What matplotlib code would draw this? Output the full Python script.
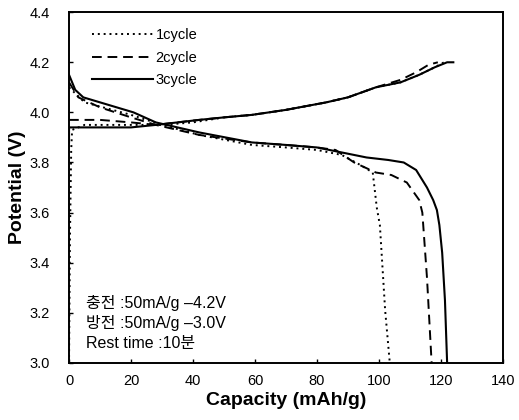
import matplotlib
matplotlib.use("Agg")
import matplotlib.pyplot as plt

plt.rcParams['font.family'] = ['Liberation Sans', 'Noto Sans CJK KR', 'DejaVu Sans']

# cycle 1 (dotted)
c1_chg_cap = [0, 0.3, 0.7, 1, 5, 20, 30, 40, 50, 59, 70, 83, 90, 99, 107, 113, 118, 121]
c1_chg_v = [3.0, 3.5, 3.85, 3.93, 3.95, 3.95, 3.95, 3.96, 3.98, 3.99, 4.01, 4.04, 4.06, 4.10, 4.12, 4.15, 4.18, 4.20]
c1_dis_cap = [0, 5, 20, 30, 42, 59, 70, 80, 88, 94, 98, 99.3, 100.3, 102, 103.5]
c1_dis_v = [4.10, 4.04, 3.99, 3.95, 3.91, 3.87, 3.86, 3.85, 3.83, 3.79, 3.76, 3.62, 3.55, 3.21, 3.0]

# cycle 2 (dashed)
c2_chg_cap = [0, 3, 10, 20, 28, 35, 42, 50, 59, 70, 83, 90, 99, 107, 112, 116, 119]
c2_chg_v = [3.97, 3.97, 3.97, 3.96, 3.95, 3.96, 3.97, 3.98, 3.99, 4.01, 4.04, 4.06, 4.10, 4.13, 4.16, 4.19, 4.20]
c2_dis_cap = [0, 3, 10, 20, 28, 42, 59, 70, 80, 86, 92, 99, 104, 109, 113, 114, 115.5, 117]
c2_dis_v = [4.12, 4.06, 4.02, 3.98, 3.95, 3.91, 3.88, 3.87, 3.86, 3.85, 3.80, 3.76, 3.75, 3.72, 3.65, 3.60, 3.34, 3.0]

# cycle 3 (solid)
c3_chg_cap = [0, 0, 5, 10, 20, 28, 35, 42, 50, 59, 70, 83, 90, 99, 107, 113, 118, 122, 124]
c3_chg_v = [3.88, 3.94, 3.94, 3.94, 3.94, 3.95, 3.96, 3.97, 3.98, 3.99, 4.01, 4.04, 4.06, 4.10, 4.12, 4.15, 4.18, 4.20, 4.20]
c3_dis_cap = [0, 2, 4.6, 10, 20.8, 28, 42, 59, 70, 80, 88, 96, 103, 108, 112, 115.5, 117.5, 118.7, 119.5, 120.4, 121.3, 122]
c3_dis_v = [4.15, 4.09, 4.06, 4.04, 4.0, 3.96, 3.92, 3.88, 3.87, 3.86, 3.84, 3.82, 3.81, 3.80, 3.77, 3.70, 3.65, 3.61, 3.55, 3.44, 3.25, 3.0]

yticks = [3.0, 3.2, 3.4, 3.6, 3.8, 4.0, 4.2, 4.4]
notes = ['충전 :50mA/g –4.2V', '방전 :50mA/g –3.0V', 'Rest time :10분']

fig = plt.figure(figsize=(5.19, 4.2), dpi=100)
ax = fig.add_axes([0.133, 0.136, 0.836, 0.835])

ax.plot(c1_chg_cap, c1_chg_v, color='black', lw=1.4, ls=(0, (1, 2)), label='1cycle')
ax.plot(c1_dis_cap, c1_dis_v, color='black', lw=1.4, ls=(0, (1, 2)))
ax.plot(c2_chg_cap, c2_chg_v, color='black', lw=1.4, ls=(0, (5, 3)), label='2cycle')
ax.plot(c2_dis_cap, c2_dis_v, color='black', lw=1.4, ls=(0, (5, 3)))
ax.plot(c3_chg_cap, c3_chg_v, color='black', lw=1.5, label='3cycle')
ax.plot(c3_dis_cap, c3_dis_v, color='black', lw=1.5)

ax.set_xlim(0, 140)
ax.set_ylim(3.0, 4.4)
ax.set_xticks(range(0, 141, 20))
ax.set_yticks(yticks)
ax.set_yticklabels([f"{v:.1f}" for v in yticks])
ax.tick_params(direction='in', length=3, width=1, labelsize=10.5)
ax.tick_params(axis='x', pad=8)
ax.tick_params(axis='y', pad=14)
for s in ax.spines.values():
    s.set_linewidth(1.4)

ax.set_xlabel('Capacity (mAh/g)', fontsize=14, fontweight='bold', labelpad=3)
ax.set_ylabel('Potential (V)', fontsize=14, fontweight='bold', labelpad=2)

ax.legend(loc='upper left', frameon=False, fontsize=10.5, handlelength=4.2,
          handletextpad=0.15, labelspacing=0.6, borderpad=0, borderaxespad=0,
          bbox_to_anchor=(0.053, 0.955))

for i, t in enumerate(notes):
    ax.text(5.5, 3.239 - i * 0.08, t, fontsize=11.5, va='center')

fig.savefig('out.png', dpi=100)
